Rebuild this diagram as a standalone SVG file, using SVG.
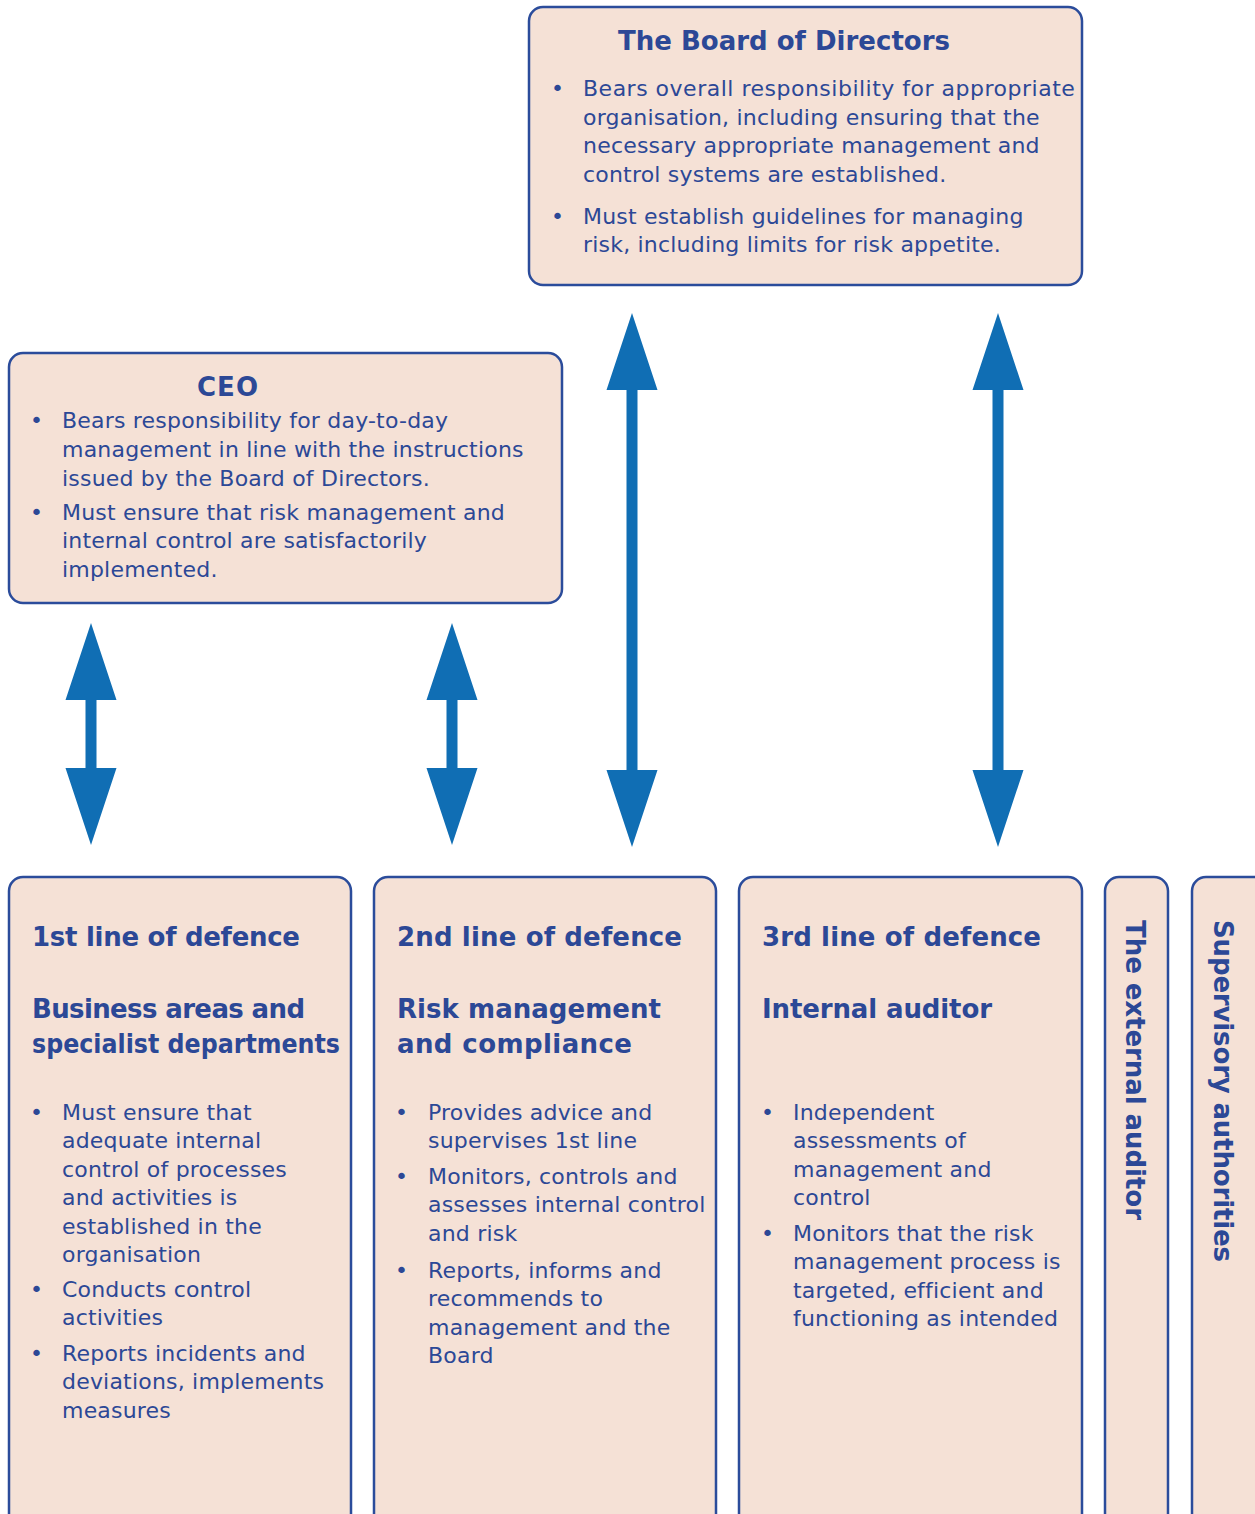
<svg xmlns="http://www.w3.org/2000/svg" width="1255" height="1514" viewBox="0 0 1255 1514">
<style>
.box{fill:#F5E1D6;stroke:#2B4C9B;stroke-width:2.5}
.t{font-family:"DejaVu Sans","Liberation Sans",sans-serif;fill:#2C4896;font-size:22px;letter-spacing:0.2px}
.h{font-family:"DejaVu Sans","Liberation Sans",sans-serif;fill:#2C4896;font-size:26px;font-weight:700}
.arrow{fill:#106EB4}
</style>
<rect x="0" y="0" width="1255" height="1514" fill="#FFFFFF"/>
<g id="board">
<rect class="box" x="529" y="7" width="553" height="278" rx="14"/>
<text class="h" x="618" y="50" textLength="332">The Board of Directors</text>
<g class="t">
<text x="551" y="96">•</text>
<text x="583" y="96" textLength="492">Bears overall responsibility for appropriate</text>
<text x="583" y="124.5">organisation, including ensuring that the</text>
<text x="583" y="153">necessary appropriate management and</text>
<text x="583" y="181.5">control systems are established.</text>
<text x="551" y="223.5">•</text>
<text x="583" y="223.5">Must establish guidelines for managing</text>
<text x="583" y="252">risk, including limits for risk appetite.</text>
</g>
</g>
<g id="ceo">
<rect class="box" x="9" y="353" width="553" height="250" rx="14"/>
<text class="h" x="197" y="396" textLength="61">CEO</text>
<g class="t">
<text x="30" y="428">•</text>
<text x="62" y="428">Bears responsibility for day-to-day</text>
<text x="62" y="457">management in line with the instructions</text>
<text x="62" y="486">issued by the Board of Directors.</text>
<text x="30" y="520">•</text>
<text x="62" y="520">Must ensure that risk management and</text>
<text x="62" y="548">internal control are satisfactorily</text>
<text x="62" y="577">implemented.</text>
</g>
</g>
<g id="line1">
<rect class="box" x="9" y="877" width="342" height="660" rx="14"/>
<text class="h" x="32" y="946" textLength="268">1st line of defence</text>
<text class="h" x="32" y="1018" textLength="273">Business areas and</text>
<text class="h" x="32" y="1053" textLength="308" lengthAdjust="spacingAndGlyphs">specialist departments</text>
<g class="t">
<text x="30" y="1120">•</text>
<text x="62" y="1120">Must ensure that</text>
<text x="62" y="1148">adequate internal</text>
<text x="62" y="1177">control of processes</text>
<text x="62" y="1205">and activities is</text>
<text x="62" y="1234">established in the</text>
<text x="62" y="1262">organisation</text>
<text x="30" y="1297">•</text>
<text x="62" y="1297">Conducts control</text>
<text x="62" y="1325">activities</text>
<text x="30" y="1361">•</text>
<text x="62" y="1361">Reports incidents and</text>
<text x="62" y="1389">deviations, implements</text>
<text x="62" y="1418">measures</text>
</g>
</g>
<g id="line2">
<rect class="box" x="374" y="877" width="342" height="660" rx="14"/>
<text class="h" x="397" y="946" textLength="285">2nd line of defence</text>
<text class="h" x="397" y="1018" textLength="264">Risk management</text>
<text class="h" x="397" y="1053" textLength="235">and compliance</text>
<g class="t">
<text x="395" y="1120">•</text>
<text x="428" y="1120">Provides advice and</text>
<text x="428" y="1148">supervises 1st line</text>
<text x="395" y="1184">•</text>
<text x="428" y="1184">Monitors, controls and</text>
<text x="428" y="1212">assesses internal control</text>
<text x="428" y="1241">and risk</text>
<text x="395" y="1278">•</text>
<text x="428" y="1278">Reports, informs and</text>
<text x="428" y="1306">recommends to</text>
<text x="428" y="1335">management and the</text>
<text x="428" y="1363">Board</text>
</g>
</g>
<g id="line3">
<rect class="box" x="739" y="877" width="343" height="660" rx="14"/>
<text class="h" x="762" y="946" textLength="279">3rd line of defence</text>
<text class="h" x="762" y="1018" textLength="230">Internal auditor</text>
<g class="t">
<text x="761" y="1120">•</text>
<text x="793" y="1120">Independent</text>
<text x="793" y="1148">assessments of</text>
<text x="793" y="1177">management and</text>
<text x="793" y="1205">control</text>
<text x="761" y="1241">•</text>
<text x="793" y="1241">Monitors that the risk</text>
<text x="793" y="1269">management process is</text>
<text x="793" y="1298">targeted, efficient and</text>
<text x="793" y="1326">functioning as intended</text>
</g>
</g>
<g id="external">
<rect class="box" x="1105" y="877" width="63" height="660" rx="14"/>
<text class="h" transform="translate(1126,920) rotate(90)" textLength="300">The external auditor</text>
</g>
<g id="supervisory">
<rect class="box" x="1192" y="877" width="80" height="660" rx="14"/>
<text class="h" transform="translate(1214,920) rotate(90)" textLength="342">Supervisory authorities</text>
</g>
<g id="connectors">
<polygon class="arrow" points="91,623 116.5,700 96.5,700 96.5,768 116.5,768 91,845 65.5,768 85.5,768 85.5,700 65.5,700"/>
<polygon class="arrow" points="452,623 477.5,700 457.5,700 457.5,768 477.5,768 452,845 426.5,768 446.5,768 446.5,700 426.5,700"/>
<polygon class="arrow" points="632,313 657.5,390 637.5,390 637.5,770 657.5,770 632,847 606.5,770 626.5,770 626.5,390 606.5,390"/>
<polygon class="arrow" points="998,313 1023.5,390 1003.5,390 1003.5,770 1023.5,770 998,847 972.5,770 992.5,770 992.5,390 972.5,390"/>
</g>
</svg>
